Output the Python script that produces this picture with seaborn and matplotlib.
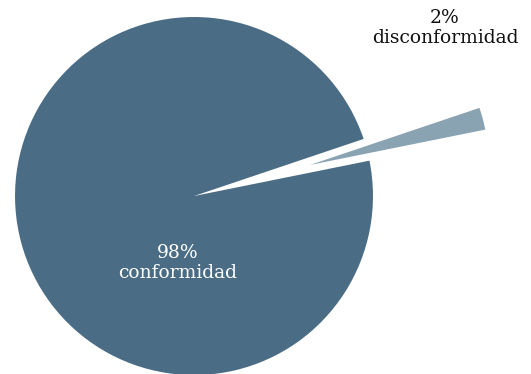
import matplotlib
matplotlib.use("Agg")
import matplotlib.pyplot as plt
import seaborn as sns

categories = ["disconformidad", "conformidad"]
values = [2, 98]
labels = ["2%\ndisconformidad", "98%\nconformidad"]

sns.set_theme(style="white")
plt.rcParams['font.family'] = ['DejaVu Serif']

colors = ["#8aa3b3", "#4a6c85"]

fig = plt.figure(figsize=(5.31, 3.74), dpi=100)
ax = fig.add_axes([0, 0, 1, 1])
ax.pie(values, colors=colors, startangle=11.4, counterclock=True,
       explode=[0.67, 0], radius=1.0,
       wedgeprops=dict(linewidth=0))
ax.set_xlim(-1.084, 1.883)
ax.set_ylim(-0.994, 1.095)
ax.set_aspect('auto')
ax.axis('off')

ax.text(1.402, 0.939, labels[0], ha='center', va='center', fontsize=13.5,
        color='#111111', linespacing=1.12)
ax.text(-0.089, -0.374, labels[1], ha='center', va='center', fontsize=13.5,
        color='white', linespacing=1.12)

fig.savefig("out.png", dpi=100, facecolor='white')
